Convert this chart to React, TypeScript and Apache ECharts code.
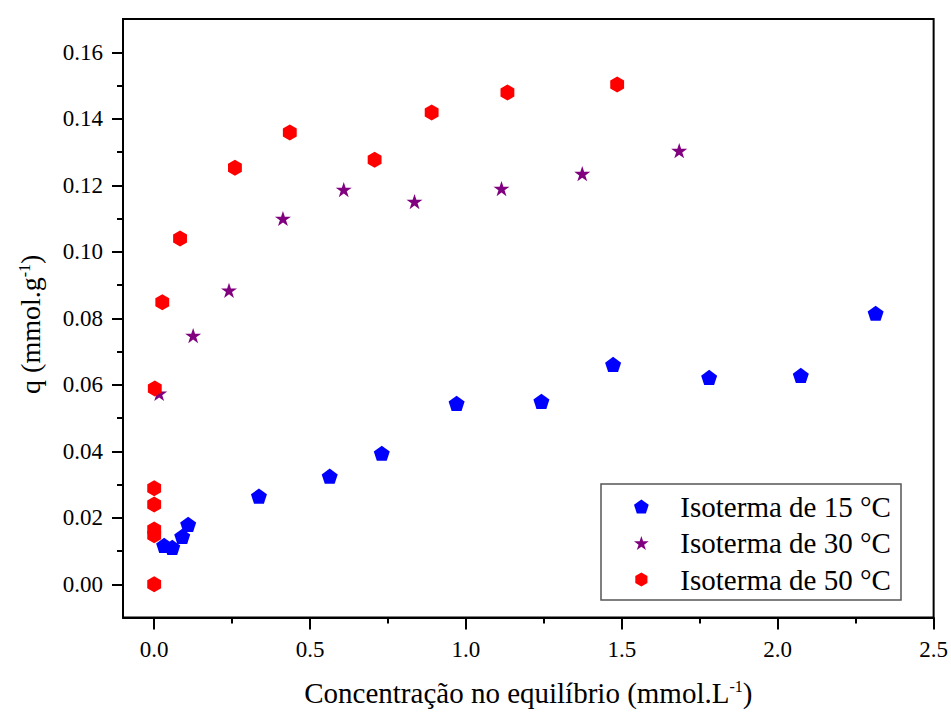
import React, { useEffect, useRef } from "react";
import * as echarts from "echarts";

const FONT = "Liberation Serif, Times New Roman, serif";

const seriesNames = ["Isoterma de 15 °C", "Isoterma de 30 °C", "Isoterma de 50 °C"];

const blueX = [0.032, 0.058, 0.09, 0.109, 0.336, 0.563, 0.73, 0.97, 1.242, 1.472, 1.78, 2.074, 2.314];
const blueY = [0.0117, 0.0111, 0.0144, 0.018, 0.0265, 0.0325, 0.0394, 0.0544, 0.055, 0.0661, 0.0622, 0.0628, 0.0815];

const purpleX = [0.016, 0.125, 0.24, 0.413, 0.608, 0.835, 1.114, 1.373, 1.684];
const purpleY = [0.0574, 0.0748, 0.0884, 0.11, 0.1187, 0.1151, 0.119, 0.1235, 0.1304];

const redX = [0, 0, 0, 0, 0, 0.002, 0.026, 0.083, 0.259, 0.435, 0.707, 0.89, 1.133, 1.485];
const redY = [0, 0.0147, 0.0165, 0.024, 0.0289, 0.0589, 0.0848, 0.104, 0.1253, 0.1359, 0.1277, 0.1419, 0.1479, 0.1503];

const xMajorTicks = [0, 0.5, 1.0, 1.5, 2.0, 2.5];
const xMinorTicks = [0.25, 0.75, 1.25, 1.75, 2.25];
const yMajorTicks = [0, 0.02, 0.04, 0.06, 0.08, 0.1, 0.12, 0.14, 0.16];
const yMinorTicks = [0.01, 0.03, 0.05, 0.07, 0.09, 0.11, 0.13, 0.15];

const PENTAGON = "path://M0,-1 L0.951,-0.309 L0.588,0.809 L-0.588,0.809 L-0.951,-0.309 Z";
const STAR =
  "path://M0,-1 L0.2245,-0.309 L0.951,-0.309 L0.3633,0.118 L0.5878,0.809 L0,0.382 L-0.5878,0.809 L-0.3633,0.118 L-0.951,-0.309 L-0.2245,-0.309 Z";
const HEXAGON = "path://M0,-1 L0.866,-0.5 L0.866,0.5 L0,1 L-0.866,0.5 L-0.866,-0.5 Z";

const zip = (xs: number[], ys: number[]) => xs.map((x, i) => [x, ys[i]]);

export default function App() {
  const ref = useRef<HTMLDivElement>(null);
  useEffect(() => {
    if (!ref.current) return;
    const chart = echarts.init(ref.current, null, { renderer: "svg" });
    const axisBase = {
      type: "value" as const,
      splitLine: { show: false },
    };
    const supStyle = { fontSize: 16, fontFamily: FONT, color: "#000", verticalAlign: "top" as const, padding: [0, 0, 10, 0] };
    chart.setOption({
      animation: false,
      backgroundColor: "#fff",
      textStyle: { fontFamily: FONT, color: "#000" },
      grid: {
        left: 123,
        top: 19,
        right: 15,
        bottom: 95.5,
        show: true,
        borderColor: "#000",
        borderWidth: 2,
      },
      xAxis: [
        {
          ...axisBase,
          min: -0.1,
          max: 2.5,
          position: "bottom",
          axisLine: { show: true, onZero: false, lineStyle: { color: "#000", width: 2 } },
          axisTick: { show: true, customValues: xMajorTicks, length: 12, lineStyle: { color: "#000", width: 2 } },
          axisLabel: {
            customValues: xMajorTicks,
            formatter: (v: number) => v.toFixed(1),
            color: "#000",
            fontFamily: FONT,
            fontSize: 23,
            margin: 20,
          },
          name: "Concentração no equilíbrio (mmol.L{sup|-1})",
          nameLocation: "middle",
          nameGap: 61,
          nameTextStyle: {
            color: "#000",
            fontFamily: FONT,
            fontSize: 29,
            rich: { sup: supStyle },
          },
        },
        {
          ...axisBase,
          min: -0.1,
          max: 2.5,
          position: "bottom",
          axisLine: { show: false, onZero: false },
          axisTick: { show: true, customValues: xMinorTicks, length: 6, lineStyle: { color: "#000", width: 2 } },
          axisLabel: { show: false },
        },
      ],
      yAxis: [
        {
          ...axisBase,
          min: -0.01,
          max: 0.17,
          position: "left",
          axisLine: { show: true, onZero: false, lineStyle: { color: "#000", width: 2 } },
          axisTick: { show: true, customValues: yMajorTicks, length: 11, lineStyle: { color: "#000", width: 2 } },
          axisLabel: {
            customValues: yMajorTicks,
            formatter: (v: number) => v.toFixed(2),
            color: "#000",
            fontFamily: FONT,
            fontSize: 23,
            margin: 20,
          },
          name: "q (mmol.g{sup|-1})",
          nameLocation: "middle",
          nameGap: 79,
          nameRotate: 90,
          nameTextStyle: {
            color: "#000",
            fontFamily: FONT,
            fontSize: 28,
            padding: [0, 12, 0, 0],
            rich: { sup: supStyle },
          },
        },
        {
          ...axisBase,
          min: -0.01,
          max: 0.17,
          position: "left",
          axisLine: { show: false, onZero: false },
          axisTick: { show: true, customValues: yMinorTicks, length: 6, lineStyle: { color: "#000", width: 2 } },
          axisLabel: { show: false },
        },
      ],
      legend: {
        orient: "vertical",
        left: 634,
        top: 492,
        padding: 0,
        itemWidth: 68,
        itemHeight: 14,
        itemGap: 7.5,
        textStyle: { color: "#000", fontFamily: FONT, fontSize: 29, lineHeight: 29 },
        data: [
          { name: seriesNames[0], icon: PENTAGON },
          { name: seriesNames[1], icon: STAR },
          { name: seriesNames[2], icon: HEXAGON },
        ],
      },
      graphic: [
        {
          type: "rect",
          shape: { x: 601, y: 484, width: 300, height: 116 },
          style: { fill: "none", stroke: "#555", lineWidth: 1.5 },
          z: 1,
        },
      ],
      series: [
        {
          type: "scatter",
          name: seriesNames[0],
          data: zip(blueX, blueY),
          symbol: PENTAGON,
          symbolSize: 16,
          symbolKeepAspect: true,
          itemStyle: { color: "#0000FF", opacity: 1 },
        },
        {
          type: "scatter",
          name: seriesNames[1],
          data: zip(purpleX, purpleY),
          symbol: STAR,
          symbolSize: 16,
          symbolKeepAspect: true,
          itemStyle: { color: "#800080", opacity: 1 },
        },
        {
          type: "scatter",
          name: seriesNames[2],
          data: zip(redX, redY),
          symbol: HEXAGON,
          symbolSize: 16,
          symbolKeepAspect: true,
          itemStyle: { color: "#FF0000", opacity: 1 },
        },
      ],
    });
    return () => chart.dispose();
  }, []);
  return (
    <div
      ref={ref}
      style={{ position: "absolute", left: 0, top: 0, width: 951, height: 713 }}
    />
  );
}
